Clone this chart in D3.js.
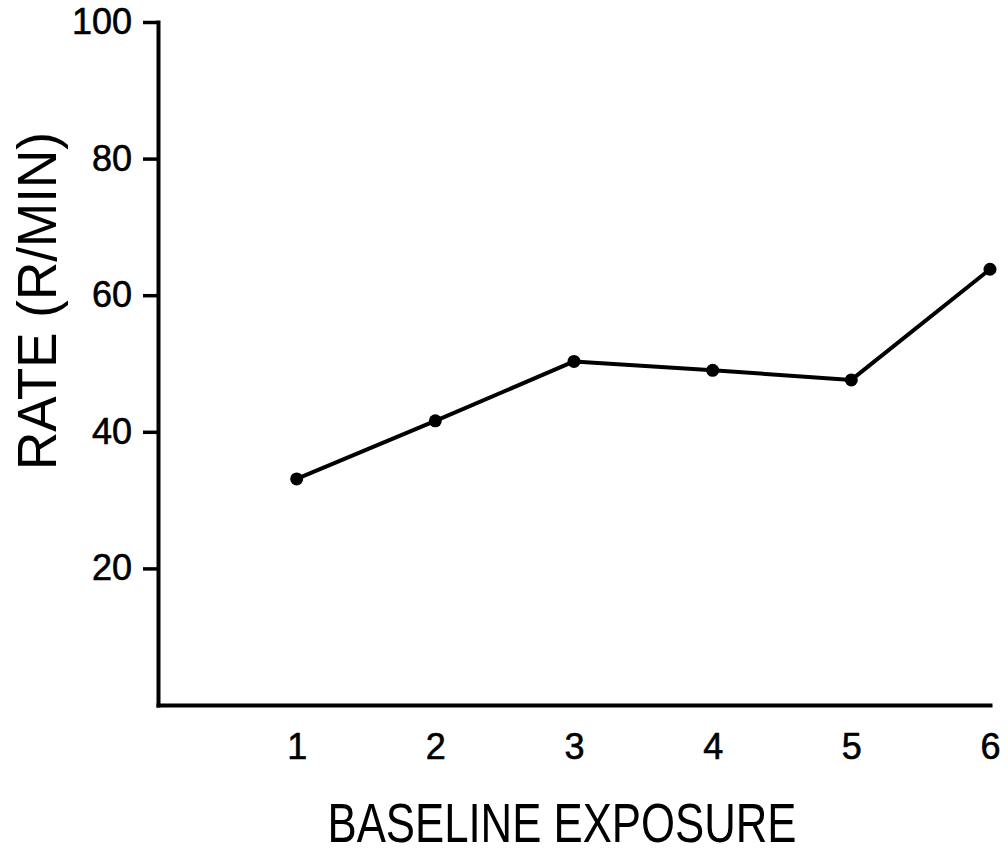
<!DOCTYPE html>
<html>
<head>
<meta charset="utf-8">
<script src="https://cdn.jsdelivr.net/npm/d3@7"></script>
<style>
  html, body { margin: 0; padding: 0; background: #fff; }
  svg { display: block; }
</style>
</head>
<body>
<svg id="chart" width="1008" height="854"></svg>
<script>
// values
const exposures = [1, 2, 3, 4, 5, 6];
const rates = [33.1, 41.6, 50.3, 49.0, 47.6, 63.8];
const yTicks = [20, 40, 60, 80, 100];
const xLabel = "BASELINE EXPOSURE";
const yLabel = "RATE (R/MIN)";

const svg = d3.select("#chart");

const plotLeft = 158, plotRight = 990, plotTop = 22, plotBottom = 705;

const x = d3.scaleLinear().domain([0, 6]).range([plotLeft, plotRight]);
const y = d3.scaleLinear().domain([0, 100]).range([plotBottom, plotTop]);

const font = "'Liberation Sans', Arial, Helvetica, sans-serif";

// y axis
const yAxis = svg.append("g")
    .attr("transform", `translate(${plotLeft},0)`)
    .call(d3.axisLeft(y).tickValues(yTicks).tickFormat(d3.format("d"))
        .tickSize(15).tickSizeOuter(0).tickPadding(11));

// x axis, labels only
const xAxis = svg.append("g")
    .attr("transform", `translate(0,${plotBottom})`)
    .call(d3.axisBottom(x).tickValues(exposures).tickFormat(d3.format("d"))
        .tickSize(0).tickSizeOuter(0).tickPadding(28));

[yAxis, xAxis].forEach(g => {
    g.select(".domain").attr("stroke", "#000").attr("stroke-width", 4).attr("stroke-linecap", "square");
    g.selectAll(".tick line").attr("stroke", "#000").attr("stroke-width", 3.5);
    g.selectAll(".tick text")
        .attr("fill", "#000")
        .attr("stroke", "#000")
        .attr("stroke-width", 0.6)
        .style("font-family", font)
        .style("font-size", "36px");
});

// the line
const line = d3.line()
    .x((d, i) => x(exposures[i]))
    .y(d => y(d));

svg.append("path")
    .datum(rates)
    .attr("fill", "none")
    .attr("stroke", "#000")
    .attr("stroke-width", 4)
    .attr("stroke-linejoin", "round")
    .attr("d", line);

svg.selectAll("circle.pt")
    .data(rates)
    .enter()
    .append("circle")
    .attr("class", "pt")
    .attr("cx", (d, i) => x(exposures[i]))
    .attr("cy", d => y(d))
    .attr("r", 6.5)
    .attr("fill", "#000");

// axis titles
svg.append("text")
    .attr("x", 562)
    .attr("y", 842)
    .attr("text-anchor", "middle")
    .attr("textLength", 469)
    .attr("lengthAdjust", "spacingAndGlyphs")
    .style("font-family", font)
    .style("font-size", "55px")
    .text(xLabel);

svg.append("text")
    .attr("transform", "translate(56,301) rotate(-90)")
    .attr("text-anchor", "middle")
    .attr("textLength", 338)
    .attr("lengthAdjust", "spacingAndGlyphs")
    .style("font-family", font)
    .style("font-size", "55px")
    .text(yLabel);
</script>
</body>
</html>
